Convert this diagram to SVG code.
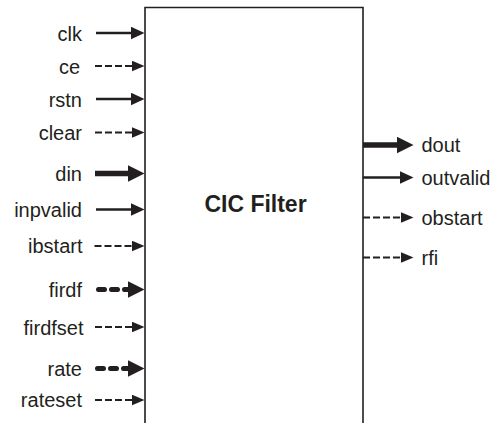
<svg xmlns="http://www.w3.org/2000/svg" width="494" height="423" viewBox="0 0 494 423">
<style>
text{font-family:"Liberation Sans",Arial,sans-serif;font-size:20px;fill:#231f20}
.l{text-anchor:end}
.t{font-weight:bold;font-size:23px;text-anchor:middle}
.c{fill:none;stroke:#231f20}
.s{stroke-width:2.6}
.k{stroke-width:5.5}
.d{stroke-width:2.2;stroke-dasharray:7 3}
.kd{stroke-width:5;stroke-dasharray:6 7;stroke-linecap:round}
.box{fill:#fff;stroke:#231f20;stroke-width:1.6}
</style>
<defs>
<marker id="a" markerUnits="userSpaceOnUse" markerWidth="15" markerHeight="13" refX="0.5" refY="6.5" orient="auto"><path d="M0,0 L14,6.5 L0,13 z" fill="#231f20"/></marker>
<marker id="as" markerUnits="userSpaceOnUse" markerWidth="14" markerHeight="11" refX="0.5" refY="5.5" orient="auto"><path d="M0,0 L13,5.5 L0,11 z" fill="#231f20"/></marker>
<marker id="al" markerUnits="userSpaceOnUse" markerWidth="18" markerHeight="17" refX="0.5" refY="8.5" orient="auto"><path d="M0,0 L17,8.5 L0,17 z" fill="#231f20"/></marker>
</defs>
<g id="cic-filter">
<path class="box" d="M145,424 V7.5 H363 V424"/>
<text class="t" x="255.5" y="212">CIC Filter</text>
</g>
<g id="connectors">
<line class="c s" x1="96" y1="33" x2="131" y2="33" marker-end="url(#a)"/>
<line class="c d" x1="95" y1="66" x2="132" y2="66" marker-end="url(#as)"/>
<line class="c s" x1="96" y1="99" x2="131" y2="99" marker-end="url(#a)"/>
<line class="c d" x1="95" y1="132.5" x2="132" y2="132.5" marker-end="url(#as)"/>
<line class="c k" x1="95" y1="173.5" x2="128" y2="173.5" marker-end="url(#al)"/>
<line class="c s" x1="96" y1="209.5" x2="131" y2="209.5" marker-end="url(#a)"/>
<line class="c d" x1="94.5" y1="246" x2="132" y2="246" marker-end="url(#as)"/>
<line class="c kd" x1="98.5" y1="289.5" x2="128" y2="289.5" marker-end="url(#al)"/>
<line class="c d" x1="95" y1="327" x2="132" y2="327" marker-end="url(#as)"/>
<line class="c kd" x1="97.5" y1="368.5" x2="128" y2="368.5" marker-end="url(#al)"/>
<line class="c d" x1="95" y1="400" x2="132" y2="400" marker-end="url(#as)"/>
<line class="c k" x1="363" y1="145" x2="397" y2="145" marker-end="url(#al)"/>
<line class="c s" x1="363" y1="177.5" x2="400" y2="177.5" marker-end="url(#a)"/>
<line class="c d" x1="363" y1="217.5" x2="401" y2="217.5" marker-end="url(#as)"/>
<line class="c d" x1="363" y1="257.5" x2="401" y2="257.5" marker-end="url(#as)"/>
</g>
<g id="labels">
<text class="l" x="82" y="40.5">clk</text>
<text class="l" x="80" y="73.5">ce</text>
<text class="l" x="82" y="106.5">rstn</text>
<text class="l" x="82" y="140">clear</text>
<text class="l" x="82" y="181">din</text>
<text class="l" x="82" y="216.5">inpvalid</text>
<text class="l" x="82.5" y="253">ibstart</text>
<text class="l" x="82" y="297">firdf</text>
<text class="l" x="83.5" y="334.5">firdfset</text>
<text class="l" x="82" y="375.5">rate</text>
<text class="l" x="82" y="407">rateset</text>
<text x="421.5" y="152">dout</text>
<text x="421.5" y="184.5">outvalid</text>
<text x="421.5" y="224.5">obstart</text>
<text x="421.5" y="264.5">rfi</text>
</g>
</svg>
